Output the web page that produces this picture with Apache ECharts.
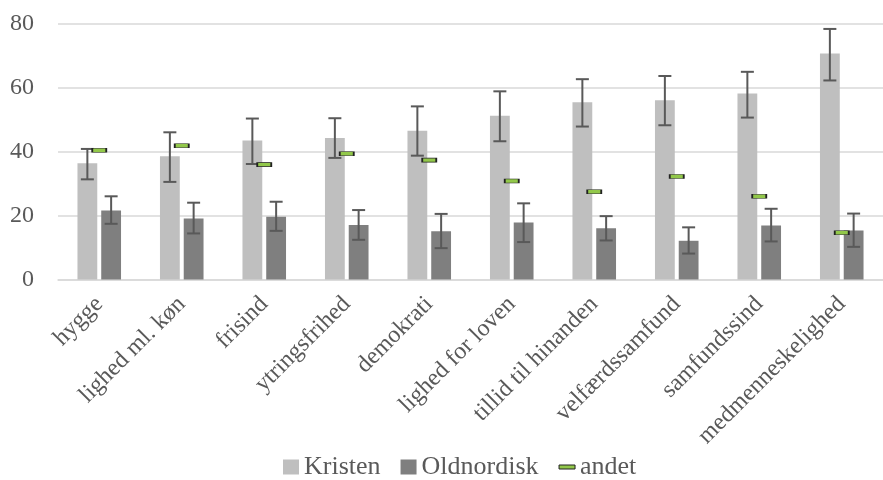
<!DOCTYPE html>
<html><head><meta charset="utf-8">
<script src="https://cdn.jsdelivr.net/npm/echarts@6/dist/echarts.min.js"></script>
<style>html,body{margin:0;padding:0;background:#fff}#c{width:883px;height:480px}</style>
</head><body><div id="c"></div>
<script>
var categories = ['hygge','lighed ml. køn','frisind','ytringsfrihed','demokrati','lighed for loven','tillid til hinanden','velfærdssamfund','samfundssind','medmenneskelighed'];
var kristen = [36.3, 38.5, 43.4, 44.2, 46.5, 51.2, 55.4, 56.0, 58.1, 70.6];
var kristenLow = [31.3, 30.5, 36.1, 38.0, 38.7, 43.2, 47.8, 48.2, 50.6, 62.2];
var kristenHigh = [40.8, 46.0, 50.3, 50.4, 54.1, 58.8, 62.6, 63.6, 64.9, 78.3];
var oldnordisk = [21.6, 19.1, 19.6, 17.0, 15.1, 17.8, 16.0, 12.1, 16.9, 15.3];
var oldnordiskLow = [17.4, 14.4, 15.2, 12.4, 9.8, 11.7, 12.2, 8.1, 11.9, 10.2];
var oldnordiskHigh = [26.0, 24.0, 24.3, 21.7, 20.5, 23.8, 19.8, 16.3, 22.1, 20.6];
var andet = [40.4, 41.8, 35.9, 39.3, 37.3, 30.8, 27.4, 32.2, 26.0, 14.6];
var yTicks = [0, 20, 40, 60, 80];

var FONT = 'Liberation Serif';
var BAR_FRAC = 0.24, GAP_FRAC = 0.2;

function errData(low, high) {
  return categories.map(function (c, i) { return [i, low[i], high[i]]; });
}
function errRender(side) {
  return function (params, api) {
    var i = api.value(0);
    var band = api.size([1, 0])[0];
    var barW = band * BAR_FRAC;
    var off = side * (barW + barW * GAP_FRAC) / 2;
    var lo = api.coord([i, api.value(1)]);
    var hi = api.coord([i, api.value(2)]);
    var x = lo[0] + off;
    var cap = 6.5;
    var st = { stroke: '#595959', lineWidth: 2 };
    return { type: 'group', children: [
      { type: 'line', shape: { x1: x, y1: lo[1], x2: x, y2: hi[1] }, style: st },
      { type: 'line', shape: { x1: x - cap, y1: lo[1], x2: x + cap, y2: lo[1] }, style: st },
      { type: 'line', shape: { x1: x - cap, y1: hi[1], x2: x + cap, y2: hi[1] }, style: st }
    ]};
  };
}

var chart = echarts.init(document.getElementById('c'), null, { renderer: 'canvas' });
chart.setOption({
  animation: false,
  textStyle: { fontFamily: FONT },
  grid: { left: 58, right: 0, top: 23.5, bottom: 200.5, containLabel: false },
  legend: {
    bottom: -5, left: 278, itemGap: 20, itemWidth: 16, itemHeight: 15,
    textStyle: { fontFamily: FONT, fontSize: 26, color: '#595959' },
    data: [
      { name: 'Kristen', icon: 'rect' },
      { name: 'Oldnordisk', icon: 'rect' },
      { name: 'andet', icon: 'path://M0,0h16v4h-16z', itemStyle: { color: '#92c84a', borderColor: '#222', borderWidth: 1 } }
    ]
  },
  xAxis: {
    type: 'category', data: categories,
    axisLine: { lineStyle: { color: '#d9d9d9', width: 1.5 } },
    axisTick: { show: false },
    axisLabel: { rotate: 45, interval: 0, margin: 21, fontFamily: FONT, fontSize: 24, color: '#595959' }
  },
  yAxis: {
    type: 'value', min: 0, max: 80, interval: 20,
    axisLine: { show: false }, axisTick: { show: false },
    splitLine: { lineStyle: { color: '#d9d9d9', width: 1.5 } },
    axisLabel: { margin: 24, fontFamily: FONT, fontSize: 24, color: '#595959' }
  },
  series: [
    { name: 'Kristen', type: 'bar', data: kristen, barWidth: (BAR_FRAC * 100) + '%', barGap: (GAP_FRAC * 100) + '%',
      itemStyle: { color: '#bfbfbf' }, z: 2 },
    { name: 'Oldnordisk', type: 'bar', data: oldnordisk, barWidth: (BAR_FRAC * 100) + '%',
      itemStyle: { color: '#7f7f7f' }, z: 2 },
    { name: 'errK', type: 'custom', data: errData(kristenLow, kristenHigh), renderItem: errRender(-1),
      encode: { x: 0, y: [1, 2] }, z: 3, silent: true },
    { name: 'errO', type: 'custom', data: errData(oldnordiskLow, oldnordiskHigh), renderItem: errRender(1),
      encode: { x: 0, y: [1, 2] }, z: 3, silent: true },
    { name: 'andet', type: 'scatter', data: andet, symbol: 'rect', symbolSize: [14, 4],
      itemStyle: { color: '#92c84a', borderColor: '#222', borderWidth: 1, opacity: 1 }, z: 4 }
  ]
});
</script></body></html>
